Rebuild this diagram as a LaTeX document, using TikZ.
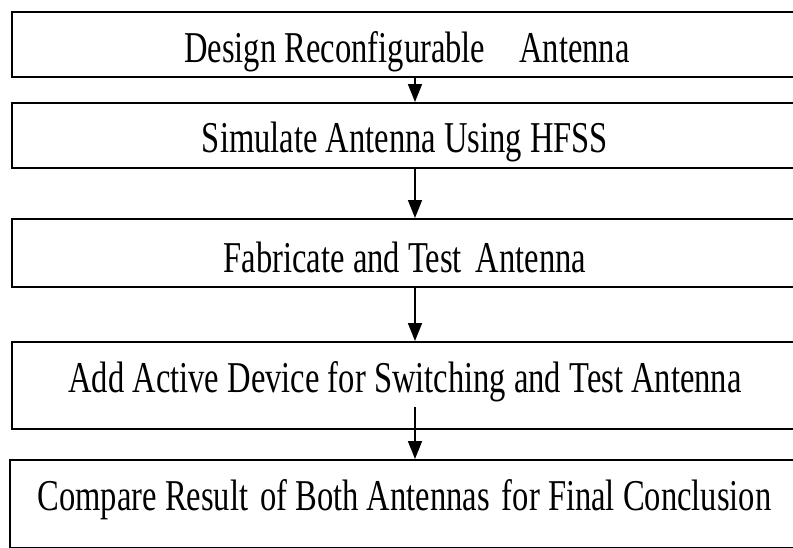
\documentclass[tikz,border=0pt]{standalone}
\usepackage{fontspec}
\setmainfont[FakeStretch=0.74]{Liberation Serif}
\usetikzlibrary{arrows.meta}

\begin{document}
\begin{tikzpicture}[x=0.5pt,y=-0.5pt,
    stepbox/.style={draw,line width=1pt,minimum width=393pt,inner sep=0pt},
    steptext/.style={anchor=base,inner sep=0pt,font=\fontsize{22}{26}\selectfont},
    flow/.style={line width=0.8pt,-{Triangle[length=9pt,width=7pt]}}]
    \clip (0,0) rectangle (793,547);
    % boxes (right side runs off the page)
    \node[stepbox,minimum height=32.5pt] (design) at (405,44.5) {};
    \node[stepbox,minimum height=32.5pt] (simulate) at (405,135.5) {};
    \node[stepbox,minimum height=34pt] (fabricate) at (405,253) {};
    \node[stepbox,minimum height=43.5pt] (active) at (405,385.5) {};
    \node[stepbox,minimum height=43.75pt,minimum width=395.25pt] (compare) at (404.75,503.75) {};
    % labels
    \node[steptext] (designtxt) at (407,62) {Design Reconfigurable\hspace{17pt}Antenna};
    \node[steptext] (simulatetxt) at (405,152) {Simulate Antenna Using HFSS};
    \node[steptext] (fabricatetxt) at (405,272) {Fabricate and Test\hspace{7pt}Antenna};
    \node[steptext] (activetxt) at (405,392) {Add Active Device for Switching and Test Antenna};
    \node[steptext] (comparetxt) at (404.5,510) {Compare Result\hspace{6pt}of Both Antennas\hspace{6pt}for Final Conclusion};
    % arrows
    \coordinate (tail) at (415,407);
    \draw[flow] ([xshift=5pt]design.south) -- ([xshift=5pt]simulate.north);
    \draw[flow] ([xshift=5pt]simulate.south) -- ([xshift=5pt]fabricate.north);
    \draw[flow] ([xshift=5pt]fabricate.south) -- ([xshift=5pt]active.north);
    \draw[flow] (tail) -- (tail |- compare.north);
\end{tikzpicture}
\end{document}
